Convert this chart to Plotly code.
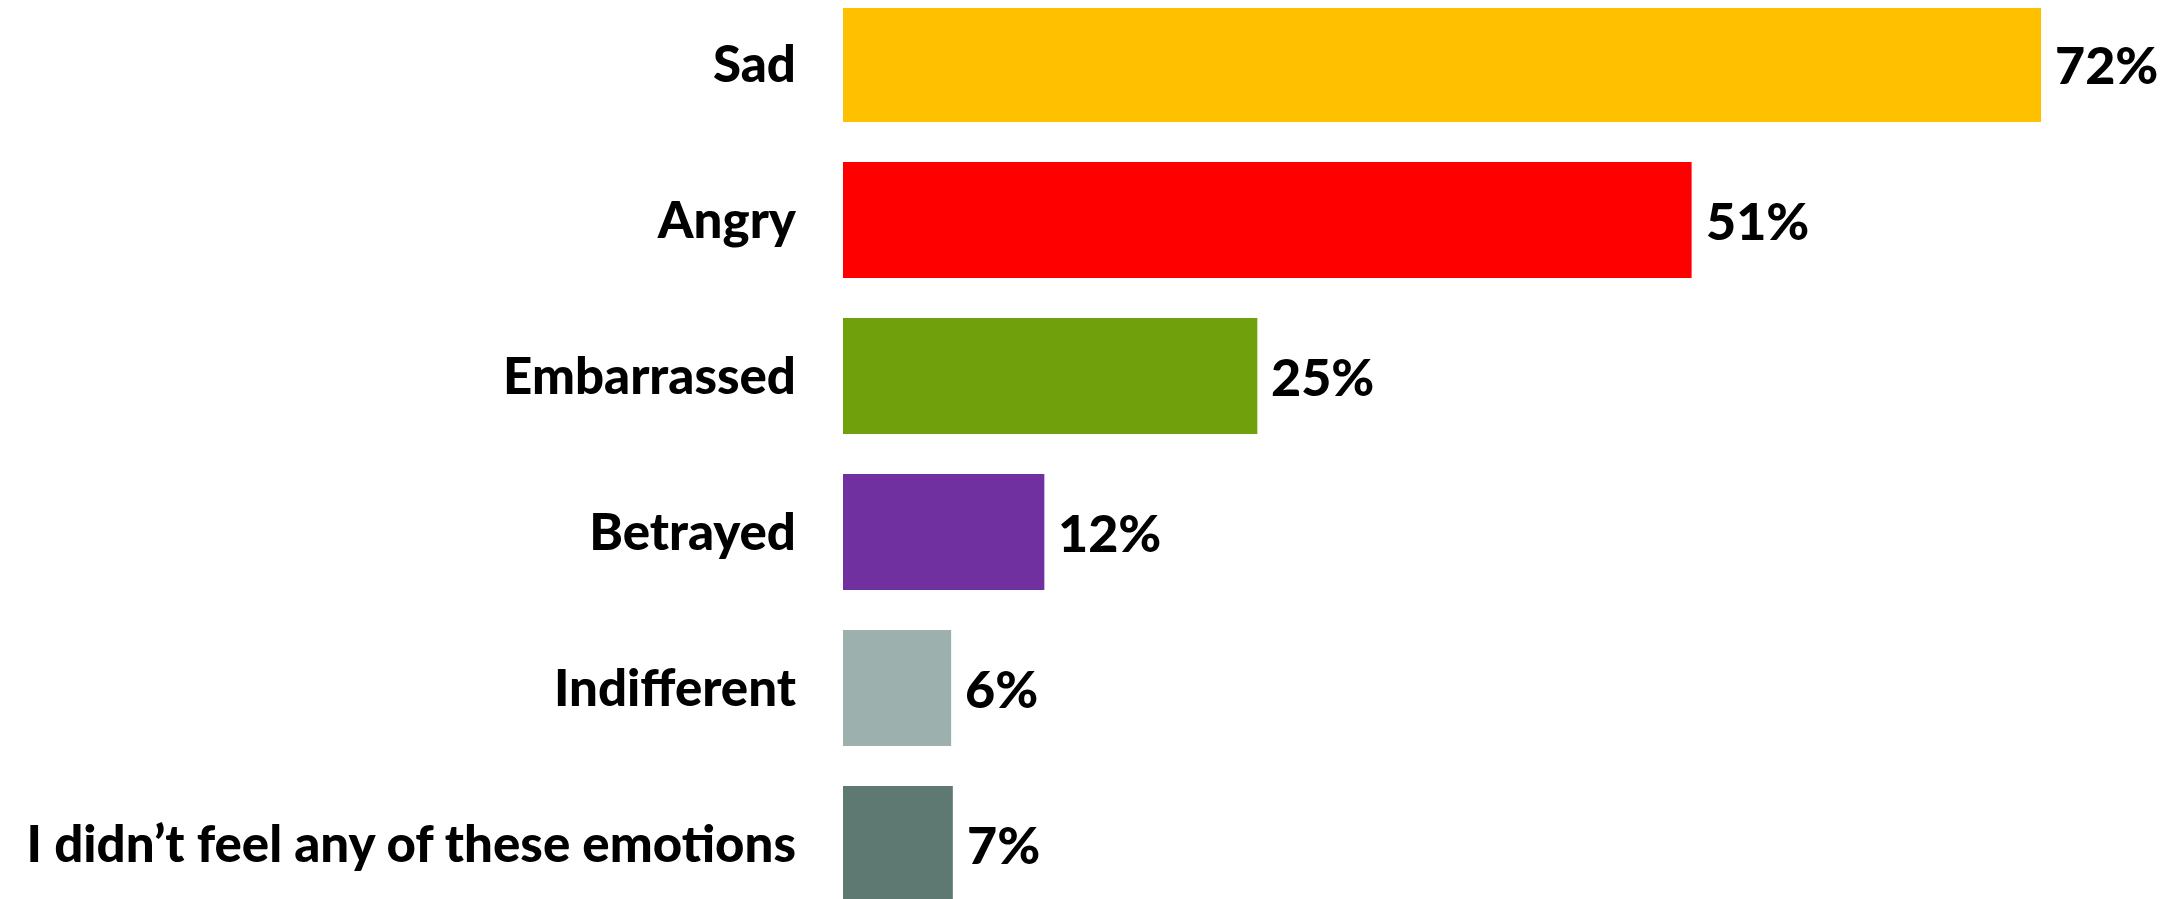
import plotly.graph_objects as go

emotions = ["Sad", "Angry", "Embarrassed", "Betrayed", "Indifferent",
            "I didn’t feel any of these emotions"]
shares = [72, 51, 24.9, 12.1, 6.5, 6.6]
share_labels = ["72%", "51%", "25%", "12%", "6%", "7%"]
bar_colors = ["#FFC000", "#FF0000", "#70A00B", "#7030A0", "#9CB0AE", "#5E7872"]

FONT = "Lato"

fig = go.Figure(go.Bar(
    x=shares, y=emotions, orientation="h",
    marker=dict(color=bar_colors, line=dict(width=0)),
    width=0.744, hoverinfo="skip",
))

# value labels to the right of each bar
for emo, val, lab in zip(emotions, shares, share_labels):
    fig.add_annotation(x=val, y=emo, text=lab, showarrow=False,
                       xanchor="left", yanchor="middle", xshift=12,
                       font=dict(family=FONT, size=52, color="black", weight=900))

# page has an 8px body margin, so the figure is a bit smaller than the window
fig.update_layout(
    width=2167, height=891,
    margin=dict(l=835, r=0, t=0, b=0),
    paper_bgcolor="white", plot_bgcolor="white",
    showlegend=False,
    xaxis=dict(range=[0, 80.05], visible=False, fixedrange=True),
    yaxis=dict(range=[5.353, -0.359], showgrid=False, zeroline=False,
               showline=False, ticks="", ticklabelstandoff=46,
               tickfont=dict(family=FONT, size=51, color="black", weight=900)),
)

fig.write_html("out.html")
